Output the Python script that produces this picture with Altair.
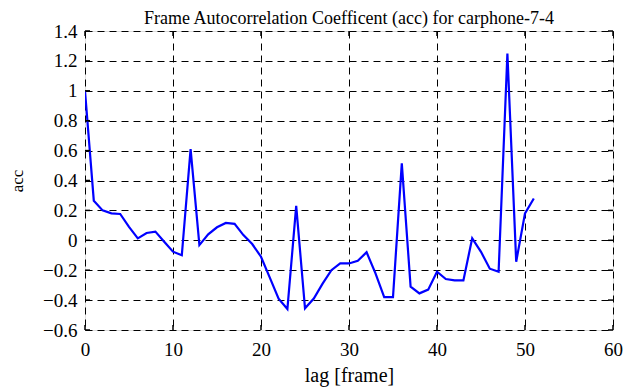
import altair as alt
import pandas as pd

lags = list(range(0, 52))
acc = [1.0, 0.265, 0.2, 0.18, 0.176, 0.09, 0.013, 0.049, 0.058, -0.01,
       -0.076, -0.1, 0.61, -0.032, 0.04, 0.087, 0.116, 0.11, 0.035, -0.025,
       -0.11, -0.25, -0.39, -0.46, 0.23, -0.455, -0.39, -0.29, -0.2, -0.155,
       -0.155, -0.137, -0.08, -0.22, -0.38, -0.38, 0.515, -0.31, -0.355, -0.33,
       -0.21, -0.259, -0.268, -0.268, 0.013, -0.077, -0.19, -0.21, 1.25, -0.143,
       0.18, 0.28]

x_ticks = [0, 10, 20, 30, 40, 50, 60]
y_ticks = [-0.6, -0.4, -0.2, 0, 0.2, 0.4, 0.6, 0.8, 1.0, 1.2, 1.4]

W, H = 528, 299
FONT = "Liberation Serif"

df = pd.DataFrame({"lag": lags, "acc": acc})
xdf = pd.DataFrame({"t": x_ticks})
ydf = pd.DataFrame({"t": y_ticks})

xscale = alt.Scale(domain=[0, 60], nice=False, zero=False)
yscale = alt.Scale(domain=[-0.6, 1.4], nice=False, zero=False)

xaxis = alt.Axis(values=x_ticks, title="lag [frame]", grid=True,
                 gridDash=[7, 5], gridColor="black", gridWidth=1,
                 gridOpacity=1, ticks=False, domain=False,
                 labelFont=FONT, labelFontSize=19, labelColor="black",
                 labelPadding=10, labelOverlap=False, labelFlush=False,
                 titleFont=FONT, titleFontSize=20,
                 titleFontWeight="normal", titleColor="black",
                 titlePadding=6)
yaxis = alt.Axis(values=y_ticks, title="acc", grid=True,
                 gridDash=[7, 5], gridColor="black", gridWidth=1,
                 gridOpacity=1, ticks=False, domain=False,
                 labelFont=FONT, labelFontSize=19, labelColor="black",
                 labelPadding=8, labelOverlap=False, labelFlush=False,
                 labelExpr="format(datum.value, '.1~f')",
                 titleFont=FONT, titleFontSize=17,
                 titleFontWeight="normal", titleColor="black",
                 titlePadding=16)

line = alt.Chart(df).mark_line(color="#0000ff", strokeWidth=2.2, clip=True).encode(
    x=alt.X("lag:Q", scale=xscale, axis=xaxis),
    y=alt.Y("acc:Q", scale=yscale, axis=yaxis),
)

tl = 5
bottom_ticks = alt.Chart(xdf).mark_rule(color="black", strokeWidth=1.5).encode(
    x=alt.X("t:Q", scale=xscale, axis=xaxis), y=alt.value(H), y2=alt.value(H - tl))
top_ticks = alt.Chart(xdf).mark_rule(color="black", strokeWidth=1.5).encode(
    x=alt.X("t:Q", scale=xscale, axis=xaxis), y=alt.value(0), y2=alt.value(tl))
left_ticks = alt.Chart(ydf).mark_rule(color="black", strokeWidth=1.5).encode(
    y=alt.Y("t:Q", scale=yscale, axis=yaxis), x=alt.value(0), x2=alt.value(tl))
right_ticks = alt.Chart(ydf).mark_rule(color="black", strokeWidth=1.5).encode(
    y=alt.Y("t:Q", scale=yscale, axis=yaxis), x=alt.value(W), x2=alt.value(W - tl))

chart = alt.layer(line, bottom_ticks, top_ticks, left_ticks, right_ticks).properties(
    width=W, height=H,
    title=alt.Title("Frame Autocorrelation Coefficent (acc) for carphone-7-4",
                    font=FONT, fontSize=18, fontWeight="normal", color="black",
                    anchor="middle", offset=-6),
    autosize=alt.AutoSizeParams(type="none"),
    padding={"left": 77, "top": 23, "right": 10, "bottom": 58},
).configure_view(stroke="black", strokeWidth=2.2).configure(background="white")

chart.save("out.html", embed_options={"renderer": "svg", "actions": False})
